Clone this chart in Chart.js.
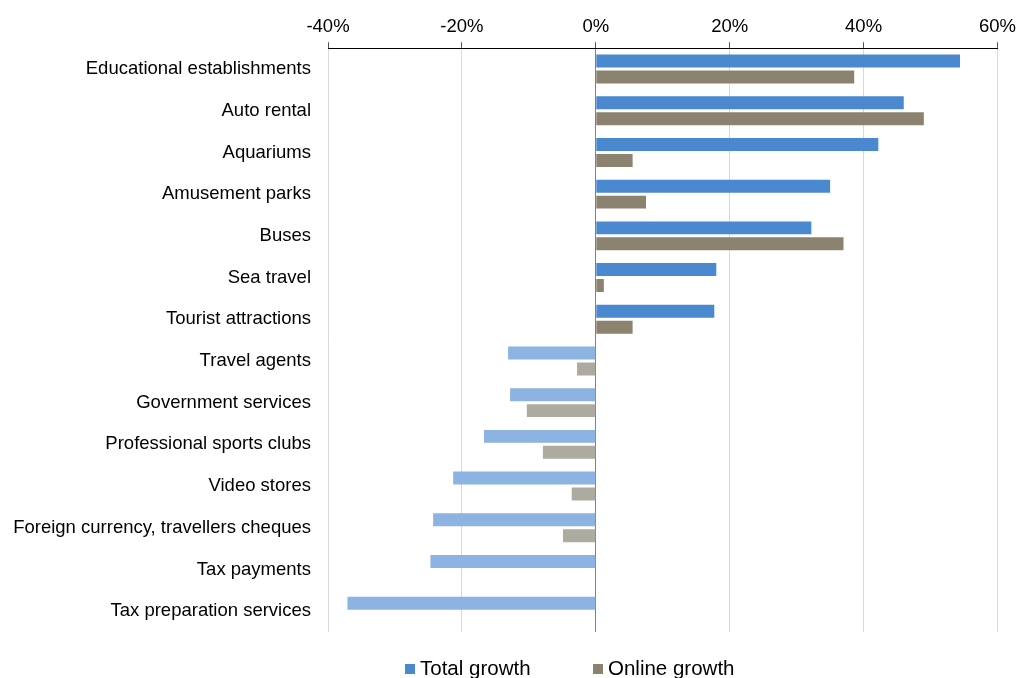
<!DOCTYPE html>
<html>
<head>
<meta charset="utf-8">
<script src="https://cdn.jsdelivr.net/npm/chart.js@4.4.0/dist/chart.umd.min.js"></script>
<style>
  html, body { margin: 0; padding: 0; background: #fff; overflow: hidden; }
  #wrap { width: 1020px; height: 678px; position: relative; }
  #legend { position: absolute; left: 0; top: 655px; width: 1020px; height: 30px;
            font-family: "Liberation Sans", Arial, sans-serif; font-size: 20.5px; color: #000; }
  .item { position: absolute; top: 0; white-space: nowrap; line-height: 26px; }
  .box { display: inline-block; width: 10px; height: 10px; margin-right: 5px; vertical-align: 1px; }
</style>
</head>
<body>
<div id="wrap">
  <canvas id="myChart"></canvas>
  <div id="legend"></div>
</div>
<script>
var categories = [
    'Educational establishments',
    'Auto rental',
    'Aquariums',
    'Amusement parks',
    'Buses',
    'Sea travel',
    'Tourist attractions',
    'Travel agents',
    'Government services',
    'Professional sports clubs',
    'Video stores',
    'Foreign currency, travellers cheques',
    'Tax payments',
    'Tax preparation services'
];
var totalGrowth = [54.4, 46.0, 42.2, 35.0, 32.2, 18.0, 17.7, -13.1, -12.8, -16.7, -21.3, -24.3, -24.7, -37.1];
var onlineGrowth = [38.6, 49.0, 5.5, 7.5, 37.0, 1.2, 5.5, -2.8, -10.3, -7.9, -3.6, -4.9, null, null];
var tickValues = [-40, -20, 0, 20, 40, 60];

var totalColor = '#4a88d0', totalNeg = '#8db3e2';
var onlineColor = '#8c8270', onlineNeg = '#adaba0';

function colorsFor(values, pos, neg) {
    var out = [];
    for (var i = 0; i < values.length; i++) {
        out.push(values[i] < 0 ? neg : pos);
    }
    return out;
}

Chart.defaults.font.family = '"Liberation Sans", Arial, sans-serif';
Chart.defaults.font.size = 18.5;
Chart.defaults.color = '#000';

var ctx = document.getElementById('myChart').getContext('2d');
var myChart = new Chart(ctx, {
    type: 'bar',
    data: {
        labels: categories,
        datasets: [{
            label: 'Total growth',
            data: totalGrowth,
            backgroundColor: colorsFor(totalGrowth, totalColor, totalNeg),
            barPercentage: 0.81,
            categoryPercentage: 0.767
        },
        {
            label: 'Online growth',
            data: onlineGrowth,
            backgroundColor: colorsFor(onlineGrowth, onlineColor, onlineNeg),
            barPercentage: 0.81,
            categoryPercentage: 0.767
        }]
    },
    options: {
        indexAxis: 'y',
        responsive: true,
        maintainAspectRatio: false,
        animation: false,
        layout: {
            padding: { left: 10, right: 0, top: 12, bottom: 46 }
        },
        scales: {
            x: {
                position: 'top',
                min: -40,
                max: 60,
                afterBuildTicks: function (axis) {
                    axis.ticks = tickValues.map(function (v) { return { value: v }; });
                },
                ticks: {
                    padding: 4,
                    callback: function (v) { return v + '%'; }
                },
                grid: {
                    color: function (c) {
                        return c.tick && c.tick.value === 0 ? '#808080' : '#d9d9d9';
                    },
                    tickColor: '#555',
                    tickLength: 6
                },
                border: { color: '#000', width: 1 }
            },
            y: {
                ticks: { padding: 17 },
                grid: { display: false, drawTicks: false },
                border: { display: false },
                afterFit: function (scale) {
                    scale.width = 318;
                }
            }
        },
        plugins: {
            legend: { display: false },
            tooltip: { enabled: false }
        }
    }
});

// legend below the plot, same look as the original
var legendItems = [
    { text: 'Total growth', color: totalColor, left: 405 },
    { text: 'Online growth', color: onlineColor, left: 593 }
];
var legend = document.getElementById('legend');
legendItems.forEach(function (it) {
    var d = document.createElement('div');
    d.className = 'item';
    d.style.left = it.left + 'px';
    var b = document.createElement('span');
    b.className = 'box';
    b.style.background = it.color;
    d.appendChild(b);
    d.appendChild(document.createTextNode(it.text));
    legend.appendChild(d);
});
</script>
</body>
</html>
